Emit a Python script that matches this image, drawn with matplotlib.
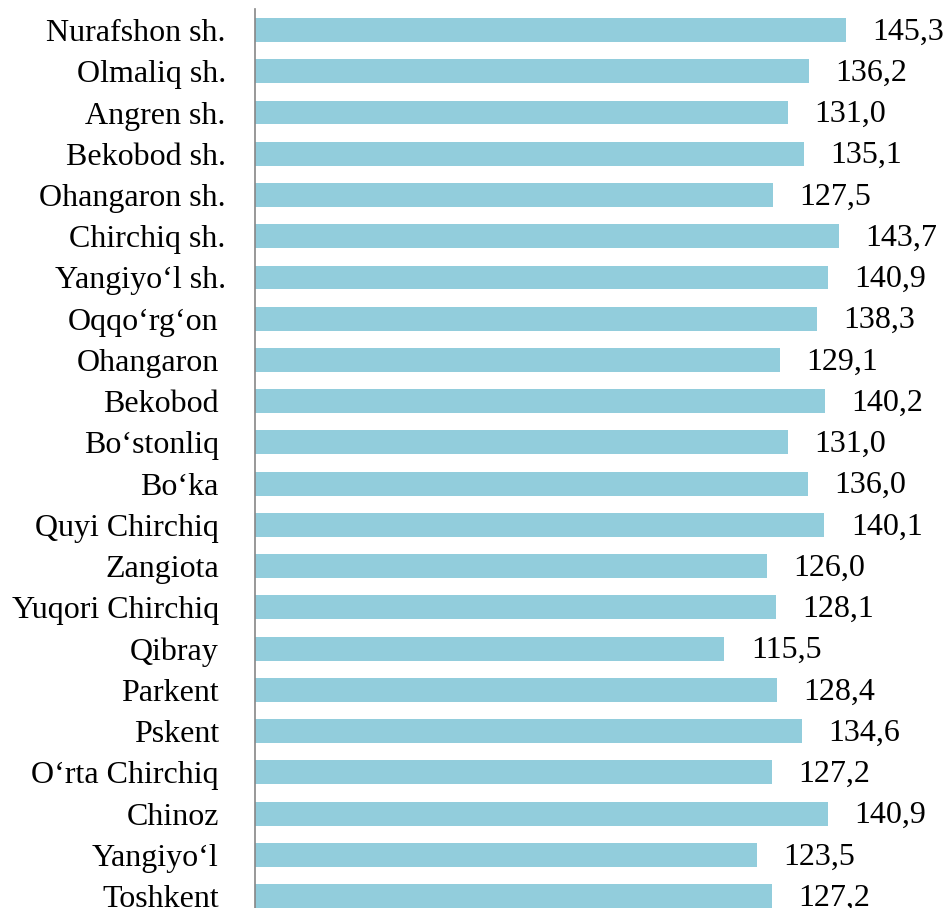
import matplotlib
matplotlib.use("Agg")
import matplotlib.pyplot as plt
import matplotlib.transforms as mtransforms

districts = ["Nurafshon sh.", "Olmaliq sh.", "Angren sh.", "Bekobod sh.", "Ohangaron sh.",
             "Chirchiq sh.", "Yangiyo\u2018l sh.", "Oqqo\u2018rg\u2018on", "Ohangaron", "Bekobod",
             "Bo\u2018stonliq", "Bo\u2018ka", "Quyi Chirchiq", "Zangiota", "Yuqori Chirchiq",
             "Qibray", "Parkent", "Pskent", "O\u2018rta Chirchiq", "Chinoz", "Yangiyo\u2018l", "Toshkent"]
values = [145.3, 136.2, 131.0, 135.1, 127.5, 143.7, 140.9, 138.3, 129.1, 140.2,
          131.0, 136.0, 140.1, 126.0, 128.1, 115.5, 128.4, 134.6, 127.2, 140.9, 123.5, 127.2]

plt.rcParams['font.family'] = ['Liberation Serif', 'DejaVu Serif']

fig = plt.figure(figsize=(9.44, 9.08), dpi=100)
ax = fig.add_axes([255 / 944, -8.7 / 908, 689 / 944, 907.3 / 908])

pos = list(range(len(districts)))
ax.barh(pos, values, height=0.58, color='#92CDDC')
ax.set_ylim(len(districts) - 0.5, -0.5)
ax.set_xlim(0, 169.5)

for p, v in zip(pos, values):
    ax.annotate(f"{v:.1f}".replace('.', ','), (v, p), xytext=(19, -1.5),
                textcoords='offset points', va='center', ha='left', fontsize=23)

ax.set_yticks(pos)
ax.set_yticklabels(districts, fontsize=23)
ax.tick_params(axis='y', length=0, pad=21)
ax.set_xticks([])

# labels without "sh." sit a little further left in the original
shift = mtransforms.ScaledTranslation(-7 / 100, 0, fig.dpi_scale_trans)
for lbl in ax.get_yticklabels():
    if not lbl.get_text().endswith('sh.'):
        lbl.set_transform(lbl.get_transform() + shift)

for s in ['top', 'right', 'bottom']:
    ax.spines[s].set_visible(False)
ax.spines['left'].set_color('#868686')
ax.spines['left'].set_linewidth(1.2)

fig.savefig('out.png', dpi=100)
